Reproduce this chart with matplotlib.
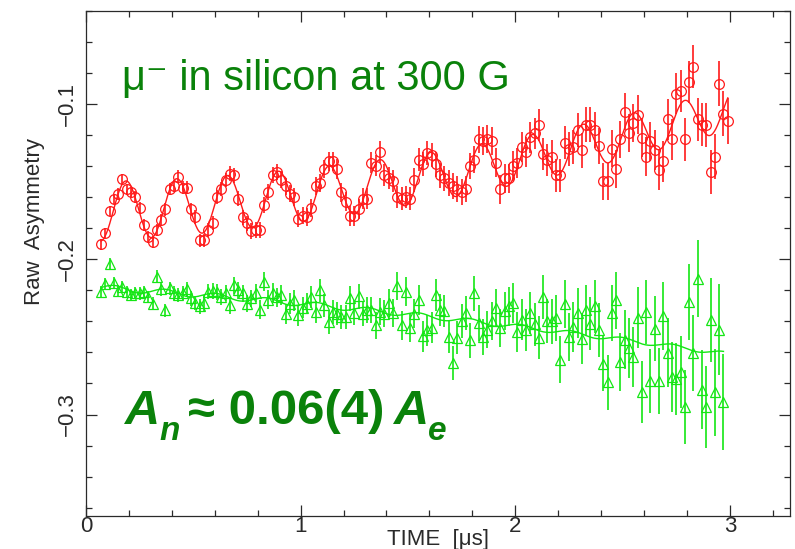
import numpy as np
import matplotlib
matplotlib.use("Agg")
import matplotlib.pyplot as plt
from matplotlib.ticker import MultipleLocator

# ---------------------------------------------------------------------------
# Histogram binning (µs): 20 ns bins, first bin centred at 70 ns
# ---------------------------------------------------------------------------
BIN_START = 0.07
BIN_WIDTH = 0.02

# Raw asymmetry, forward/backward pair (oscillating muon precession signal)
red_asym = [
    -0.1905, -0.1834, -0.1690, -0.1613, -0.1580, -0.1486, -0.1550, -0.1570, -0.1600, -0.1670,
    -0.1780, -0.1860, -0.1890, -0.1810, -0.1750, -0.1680, -0.1550, -0.1530, -0.1470, -0.1540,
    -0.1540, -0.1680, -0.1730, -0.1880, -0.1880, -0.1810, -0.1770, -0.1600, -0.1550, -0.1490,
    -0.1450, -0.1460, -0.1610, -0.1730, -0.1770, -0.1820, -0.1810, -0.1810, -0.1650, -0.1570,
    -0.1460, -0.1440, -0.1490, -0.1530, -0.1580, -0.1600, -0.1740, -0.1720, -0.1730,
    -0.1670, -0.1530, -0.1510, -0.1420, -0.1370, -0.1370, -0.1420, -0.1570, -0.1630, -0.1720,
    -0.1720, -0.1680, -0.1610, -0.1610, -0.1380, -0.1400, -0.1310, -0.1460, -0.1480, -0.1500,
    -0.1600, -0.1610, -0.1600, -0.1610, -0.1490, -0.1360, -0.1390, -0.1320, -0.1330, -0.1390,
    -0.1460, -0.1480, -0.1510, -0.1530, -0.1550, -0.1570, -0.1550, -0.1400, -0.1360, -0.1230,
    -0.1240, -0.1230, -0.1240, -0.1380, -0.1550, -0.1480, -0.1480, -0.1400, -0.1380, -0.1280,
    -0.1310, -0.1215, -0.1190, -0.1135, -0.1325, -0.1360, -0.1340, -0.1460, -0.1460, -0.1250,
    -0.1290, -0.1280, -0.1170, -0.1300, -0.1135, -0.1135, -0.1170, -0.1270, -0.1500, -0.1500,
    -0.1290, -0.1420, -0.1230, -0.1050, -0.1190, -0.1125, -0.1070, -0.1220, -0.1340, -0.1243,
    -0.1297, -0.1426, -0.1370, -0.1100, -0.1230, -0.0935, -0.0920, -0.1230, -0.0860, -0.0763,
    -0.1100, -0.1135, -0.1135, -0.1440, -0.1340, -0.0870, -0.1065, -0.1110,
]
red_err = [
    0.0034, 0.0034, 0.0035, 0.0035, 0.0035, 0.0036, 0.0036, 0.0036, 0.0037, 0.0037,
    0.0038, 0.0038, 0.0039, 0.0039, 0.0040, 0.0040, 0.0040, 0.0041, 0.0041, 0.0042,
    0.0042, 0.0043, 0.0043, 0.0044, 0.0044, 0.0045, 0.0045, 0.0046, 0.0046, 0.0047,
    0.0047, 0.0048, 0.0048, 0.0049, 0.0049, 0.0050, 0.0051, 0.0051, 0.0052, 0.0052,
    0.0053, 0.0053, 0.0054, 0.0055, 0.0055, 0.0056, 0.0056, 0.0057, 0.0058, 0.0058,
    0.0059, 0.0059, 0.0060, 0.0061, 0.0061, 0.0062, 0.0063, 0.0063, 0.0064, 0.0065,
    0.0065, 0.0066, 0.0067, 0.0067, 0.0068, 0.0069, 0.0070, 0.0070, 0.0071, 0.0072,
    0.0073, 0.0073, 0.0074, 0.0075, 0.0076, 0.0077, 0.0077, 0.0078, 0.0079, 0.0080,
    0.0081, 0.0082, 0.0083, 0.0083, 0.0084, 0.0085, 0.0086, 0.0087, 0.0088, 0.0089,
    0.0090, 0.0091, 0.0092, 0.0093, 0.0094, 0.0095, 0.0096, 0.0097, 0.0098, 0.0099,
    0.0100, 0.0101, 0.0102, 0.0103, 0.0104, 0.0105, 0.0106, 0.0107, 0.0108, 0.0109,
    0.0110, 0.0111, 0.0112, 0.0113, 0.0114, 0.0115, 0.0116, 0.0117, 0.0118, 0.0119,
    0.0120, 0.0121, 0.0122, 0.0123, 0.0124, 0.0125, 0.0126, 0.0127, 0.0128, 0.0129,
    0.0130, 0.0131, 0.0132, 0.0133, 0.0134, 0.0135, 0.0136, 0.0137, 0.0138, 0.0139,
    0.0140, 0.0141, 0.0142, 0.0143, 0.0144, 0.0145, 0.0146,
]

# Raw asymmetry, second detector pair (weak nuclear-spin signal)
green_asym = [
    -0.2211, -0.2157, -0.2032, -0.2151, -0.2204, -0.2182, -0.2210, -0.2232, -0.2220, -0.2220,
    -0.2210, -0.2243, -0.2286, -0.2114, -0.2195, -0.2329, -0.2189, -0.2217, -0.2232, -0.2220,
    -0.2195, -0.2253, -0.2282, -0.2303, -0.2282, -0.2210, -0.2206, -0.2210, -0.2243, -0.2217,
    -0.2297, -0.2168, -0.2200, -0.2220, -0.2286, -0.2253, -0.2217, -0.2325, -0.2146, -0.2260,
    -0.2217, -0.2247, -0.2232, -0.2355, -0.2286, -0.2265, -0.2361, -0.2312, -0.2286, -0.2243,
    -0.2340, -0.2200, -0.2297, -0.2405, -0.2340, -0.2350, -0.2372, -0.2372, -0.2253, -0.2346,
    -0.2239, -0.2350, -0.2329, -0.2329, -0.2426, -0.2340, -0.2350, -0.2282, -0.2346, -0.2174,
    -0.2426, -0.2210, -0.2441,
    -0.2350, -0.2265, -0.2497, -0.2458, -0.2441, -0.2232, -0.2325, -0.2333, -0.2501, -0.2669,
    -0.2505, -0.2398, -0.2346, -0.2523, -0.2221, -0.2411, -0.2501, -0.2454, -0.2398, -0.2312,
    -0.2441, -0.2333, -0.2303, -0.2282, -0.2469, -0.2389, -0.2458, -0.2346, -0.2419, -0.2505,
    -0.2243, -0.2398, -0.2400, -0.2376, -0.2647, -0.2290, -0.2501, -0.2437, -0.2346, -0.2512,
    -0.2329, -0.2415, -0.2303, -0.2454, -0.2673, -0.2792, -0.2346, -0.2265, -0.2662, -0.2518,
    -0.2570, -0.2630, -0.2376, -0.2856, -0.2340, -0.2785, -0.2447, -0.2785, -0.2368, -0.2604,
    -0.2759, -0.2770, -0.2727, -0.2953, -0.2276, -0.2604, -0.2125, -0.2841, -0.2953, -0.2389,
    -0.2856, -0.2454, -0.2921,
]
green_err = [
    0.0035, 0.0036, 0.0036, 0.0037, 0.0037, 0.0038, 0.0038, 0.0039, 0.0039, 0.0040,
    0.0040, 0.0041, 0.0041, 0.0042, 0.0042, 0.0043, 0.0044, 0.0044, 0.0045, 0.0045,
    0.0046, 0.0047, 0.0047, 0.0048, 0.0049, 0.0049, 0.0050, 0.0051, 0.0052, 0.0052,
    0.0053, 0.0054, 0.0055, 0.0056, 0.0056, 0.0057, 0.0058, 0.0059, 0.0060, 0.0061,
    0.0062, 0.0063, 0.0064, 0.0065, 0.0066, 0.0067, 0.0068, 0.0069, 0.0070, 0.0071,
    0.0072, 0.0073, 0.0074, 0.0075, 0.0076, 0.0077, 0.0078, 0.0079, 0.0080, 0.0081,
    0.0082, 0.0083, 0.0084, 0.0085, 0.0086, 0.0087, 0.0088, 0.0089, 0.0090, 0.0091,
    0.0092, 0.0093, 0.0095, 0.0096, 0.0097, 0.0098, 0.0099, 0.0100, 0.0102, 0.0103,
    0.0104, 0.0106, 0.0107, 0.0108, 0.0110, 0.0111, 0.0112, 0.0114, 0.0115, 0.0117,
    0.0118, 0.0120, 0.0121, 0.0123, 0.0124, 0.0126, 0.0128, 0.0130, 0.0132, 0.0134,
    0.0136, 0.0138, 0.0140, 0.0142, 0.0144, 0.0146, 0.0148, 0.0150, 0.0153, 0.0155,
    0.0158, 0.0160, 0.0163, 0.0165, 0.0168, 0.0170, 0.0173, 0.0175, 0.0178, 0.0180,
    0.0183, 0.0186, 0.0189, 0.0192, 0.0195, 0.0198, 0.0201, 0.0204, 0.0207, 0.0210,
    0.0214, 0.0218, 0.0222, 0.0226, 0.0230, 0.0234, 0.0238, 0.0242, 0.0246, 0.0250,
    0.0255, 0.0262, 0.0270, 0.0280, 0.0295, 0.0310,
]

TITLE = "\u03bc\u207b in silicon at 300 G"
X_LABEL = "TIME  [\u03bcs]"
Y_LABEL = "Raw  Asymmetry"
# amplitude ratio statement, split into (text, style, size, x_px, baseline_px)
RESULT_PARTS = [
    ("A", "italic", 35, 125, 424),
    ("n", "italic", 24, 159, 440),
    ("\u2248 0.06(4)", "normal", 35.5, 188, 424),
    ("A", "italic", 35, 394, 424),
    ("e", "italic", 24, 428, 440),
]

RED = "#ff1a1a"
GREEN = "#14e614"
TEXT_GREEN = "#0a820a"
FRAME = "#2a2a2a"

t_red = BIN_START + BIN_WIDTH * np.arange(len(red_asym))
t_green = BIN_START + BIN_WIDTH * np.arange(len(green_asym))


def design(t, omega, lam):
    env = np.exp(-lam * t)
    return np.column_stack([np.ones_like(t), t, t ** 2,
                            env * np.cos(omega * t), env * np.sin(omega * t)])


def weighted_fit(t, y, err, omegas, lambdas):
    """Least-squares fit: slow baseline + damped precession, grid over (omega, lambda)."""
    y = np.asarray(y)
    w = 1.0 / np.asarray(err)
    best = None
    for om in omegas:
        for lam in lambdas:
            X = design(t, om, lam)
            coef, *_ = np.linalg.lstsq(X * w[:, None], y * w, rcond=None)
            chi2 = np.sum(((X @ coef - y) * w) ** 2)
            if best is None or chi2 < best[0]:
                best = (chi2, om, lam, coef)
    return best[1:]


om_r, lam_r, coef_r = weighted_fit(t_red, red_asym, red_err,
                                   np.linspace(23.0, 29.0, 121), np.linspace(0.0, 0.8, 33))
om_g, lam_g, coef_g = weighted_fit(t_green, green_asym, green_err, [om_r], [lam_r])

tt_r = np.linspace(t_red[0], t_red[-1], 800)
tt_g = np.linspace(t_green[0], t_green[-1], 800)
fit_r = design(tt_r, om_r, lam_r) @ coef_r
fit_g = design(tt_g, om_g, lam_g) @ coef_g

# ---------------------------------------------------------------------------
plt.rcParams["font.family"] = ["Liberation Sans", "DejaVu Sans"]

W, H = 795, 549
fig = plt.figure(figsize=(W / 100, H / 100), dpi=100)
L, R, T, B = 86, 790, 10.5, 515.5
ax = fig.add_axes([L / W, 1 - B / H, (R - L) / W, (B - T) / H])

ax.plot(tt_r, fit_r, color=RED, lw=1.0, zorder=2)
ax.plot(tt_g, fit_g, color=GREEN, lw=1.0, zorder=2)
ax.errorbar(t_red, red_asym, yerr=red_err, fmt="o", ms=7, mfc="none", mec=RED,
            mew=0.9, ecolor=RED, elinewidth=1.2, capsize=0, zorder=3)
ax.errorbar(t_green, green_asym, yerr=green_err, fmt="^", ms=7, mfc="none", mec=GREEN,
            mew=0.9, ecolor=GREEN, elinewidth=1.2, capsize=0, zorder=3)

ax.set_xlim(0, 3.28)
ax.set_ylim(-0.365, -0.04)
ax.xaxis.set_major_locator(MultipleLocator(1))
ax.xaxis.set_minor_locator(MultipleLocator(0.2))
ax.yaxis.set_major_locator(MultipleLocator(0.1))
ax.yaxis.set_minor_locator(MultipleLocator(0.02))

for s in ax.spines.values():
    s.set_color(FRAME)
    s.set_linewidth(0.9)
ax.tick_params(which="both", direction="in", top=True, right=True,
               color=FRAME, width=0.9, labelcolor="#2a2a2a", labelsize=16)
ax.tick_params(which="major", length=8)
ax.tick_params(which="minor", length=4.5)
ax.tick_params(axis="x", pad=0)
ax.tick_params(axis="y", pad=6, labelrotation=90)
plt.setp(ax.get_yticklabels(), va="center")

ax.set_xlabel(X_LABEL, fontsize=16, color="#2a2a2a")
ax.xaxis.set_label_coords(0.5, -0.026)
ax.xaxis.label.set_va("top")
ax.set_ylabel(Y_LABEL, fontsize=16, color="#2a2a2a")
ax.yaxis.set_label_coords(-0.058, 0.583)

ax.text((122 - L) / (R - L), (B - 90) / (B - T), TITLE, transform=ax.transAxes,
        fontsize=30, color=TEXT_GREEN, ha="left", va="baseline")
for txt, style, size, xp, yp in RESULT_PARTS:
    fig.text(xp / W, 1 - yp / H, txt, fontsize=size, fontstyle=style, fontweight="bold",
             color=TEXT_GREEN, ha="left", va="baseline")

fig.savefig("out.png", dpi=100)
